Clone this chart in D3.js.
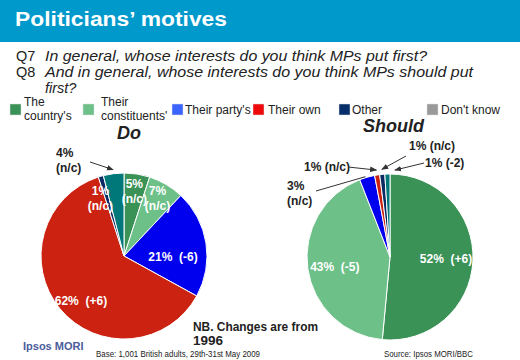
<!DOCTYPE html>
<html><head><meta charset="utf-8">
<script src="https://cdn.jsdelivr.net/npm/d3@7"></script>
<style>
html,body{margin:0;padding:0;background:#fff;}
svg{display:block;font-family:"Liberation Sans",Arial,sans-serif;}
</style></head>
<body>
<svg id="c" width="520" height="360"></svg>
<script>
// ---- data ----
const categories = ["The country's", "Their constituents'", "Their party's", "Their own", "Other", "Don't know"];
const legendLines = [["The","country's"],["Their","constituents'"],["Their party's"],["Their own"],["Other"],["Don't know"]];
const doValues = [5, 7, 21, 62, 1, 4];
const doChanges = ["n/c", "n/c", "-6", "+6", "n/c", "n/c"];
const shouldValues = [52, 43, 3, 1, 1, 1];
const shouldChanges = ["+6", "-5", "n/c", "n/c", "n/c", "-2"];

// ---- styles ----
const pieColors = ["#3b9257", "#6cc088", "#0000ee", "#cc2211", "#0c2b62", "#00787a"];
const legendColors = ["#3b9257", "#6cc088", "#3b64ff", "#ee0a0a", "#062e6a", "#999999"];

const svg = d3.select("#c");

// header
svg.append("rect").attr("x",0).attr("y",0).attr("width",520).attr("height",42).attr("fill","#0099cc");
svg.append("text").attr("x",15).attr("y",26).attr("fill","#fff").attr("font-weight","bold")
  .attr("font-size",20).attr("textLength",212).attr("lengthAdjust","spacingAndGlyphs").text("Politicians’ motives");

// questions
const q = svg.append("g").attr("fill","#222").attr("font-size",14.5);
q.append("text").attr("x",16).attr("y",61).text("Q7");
q.append("text").attr("x",45).attr("y",61).attr("font-style","italic").attr("textLength",382).attr("lengthAdjust","spacingAndGlyphs").text("In general, whose interests do you think MPs put first?");
q.append("text").attr("x",16).attr("y",77).text("Q8");
q.append("text").attr("x",45).attr("y",77).attr("font-style","italic").attr("textLength",428).attr("lengthAdjust","spacingAndGlyphs").text("And in general, whose interests do you think MPs should put");
q.append("text").attr("x",45).attr("y",93).attr("font-style","italic").text("first?");

// legend
const legX = [10, 83, 172, 253, 339, 427];
const legTextX = [24, 101, 185, 268, 352, 441];
const lg = svg.append("g");
categories.forEach((c,i)=>{
  lg.append("rect").attr("x",legX[i]).attr("y",104).attr("width",11).attr("height",11)
    .attr("fill",legendColors[i]).attr("stroke","#ddd").attr("stroke-width",0.5);
  const lines = legendLines[i];
  lines.forEach((l,k)=>{
    lg.append("text").attr("font-size",12).attr("fill","#222")
      .attr("x",legTextX[i]).attr("y",(lines.length===1?114:106)+k*13.5).text(l);
  });
});

// pie titles
svg.append("text").attr("x",117).attr("y",139).attr("font-size",18).attr("font-weight","bold").attr("font-style","italic").attr("fill","#222").text("Do");
svg.append("text").attr("x",363).attr("y",132).attr("font-size",18).attr("font-weight","bold").attr("font-style","italic").attr("fill","#222").text("Should");

const R = 83;
const pie = d3.pie().sort(null).value(d=>d);
const arc = d3.arc().innerRadius(0).outerRadius(R);
const deg = Math.PI/180;
function polar(cx, cy, aDeg, r){ return [cx + r*Math.sin(aDeg*deg), cy - r*Math.cos(aDeg*deg)]; }

// arrow marker
const defs = svg.append("defs");
defs.append("marker").attr("id","ah").attr("viewBox","0 0 10 10").attr("refX",9).attr("refY",5)
  .attr("markerWidth",7).attr("markerHeight",7).attr("orient","auto")
  .append("path").attr("d","M0,1 L10,5 L0,9 z").attr("fill","#333");

function drawPie(cx, cy, values, changes, inside, outside){
  const g = svg.append("g").attr("transform",`translate(${cx},${cy})`);
  const arcs = pie(values);
  g.selectAll("path").data(arcs).join("path").attr("d",arc)
    .attr("fill",(d,i)=>pieColors[i]).attr("stroke","#fff").attr("stroke-width",1);
  // inside labels: [index, angleDeg, radius, twoLine]
  inside.forEach(([i,a,r,two])=>{
    const [x,y] = polar(0,0,a,r);
    const t = g.append("text").attr("fill","#fff").attr("font-weight","bold").attr("font-size",12).attr("text-anchor","middle");
    if(two){
      t.append("tspan").attr("x",x).attr("y",y-3).text(values[i]+"%");
      t.append("tspan").attr("x",x).attr("y",y+12).text("("+changes[i]+")");
    } else {
      t.attr("x",x).attr("y",y+4).attr("xml:space","preserve").text(values[i]+"%  ("+changes[i]+")");
    }
  });
  // outside labels: [index, textX, textY, twoLine, lineFromX, lineFromY, arrowR, arrowAngleOffset, arrow]
  outside.forEach(([i,tx,ty,two,fx,fy,ar,ao,arrow])=>{
    const d = arcs[i];
    const mid = ((d.startAngle+d.endAngle)/2)/deg + ao;
    const [ex,ey] = polar(cx,cy,mid,ar);
    const t = svg.append("text").attr("fill","#222").attr("font-weight","bold").attr("font-size",12);
    if(two){
      t.append("tspan").attr("x",tx).attr("y",ty).text(values[i]+"%");
      t.append("tspan").attr("x",tx).attr("y",ty+15).text("("+changes[i]+")");
    } else {
      t.attr("x",tx).attr("y",ty).text(values[i]+"% ("+changes[i]+")");
    }
    const ln = svg.append("line").attr("x1",fx).attr("y1",fy).attr("x2",ex).attr("y2",ey)
      .attr("stroke","#333").attr("stroke-width",1);
    if(arrow) ln.attr("marker-end","url(#ah)");
  });
}

drawPie(124, 256, doValues, doChanges,
  [[0,9,66,true],[1,30,67,true],[2,91,49,false],[3,224,62,false],[4,338,63,true]],
  [[5,56,157,true,90,162,87,0,true]]);

drawPie(390, 257, shouldValues, shouldChanges,
  [[0,92,56,false],[1,260,56,false]],
  [[2,287,190,true,316,191,84,-1,false],
   [3,304,171,false,348,167,88,0,true],
   [4,409,150,false,406,156,88,0,true],
   [5,425,167,false,424,163,87,5,true]]);

// footer
svg.append("text").attr("x",193).attr("y",331).attr("font-size",13.5).attr("font-weight","bold").attr("fill","#222").attr("textLength",125).attr("lengthAdjust","spacingAndGlyphs").text("NB. Changes are from");
svg.append("text").attr("x",193).attr("y",345).attr("font-size",13.5).attr("font-weight","bold").attr("fill","#222").text("1996");
svg.append("text").attr("x",23).attr("y",350).attr("font-size",11).attr("font-weight","bold").attr("fill","#4a5c9c").text("Ipsos MORI");
svg.append("text").attr("x",96).attr("y",357).attr("font-size",9).attr("fill","#222").attr("textLength",164).attr("lengthAdjust","spacingAndGlyphs").text("Base: 1,001 British adults, 29th-31st May 2009");
svg.append("text").attr("x",384).attr("y",357).attr("font-size",9).attr("fill","#222").attr("textLength",89).attr("lengthAdjust","spacingAndGlyphs").text("Source: Ipsos MORI/BBC");
</script>
</body></html>
